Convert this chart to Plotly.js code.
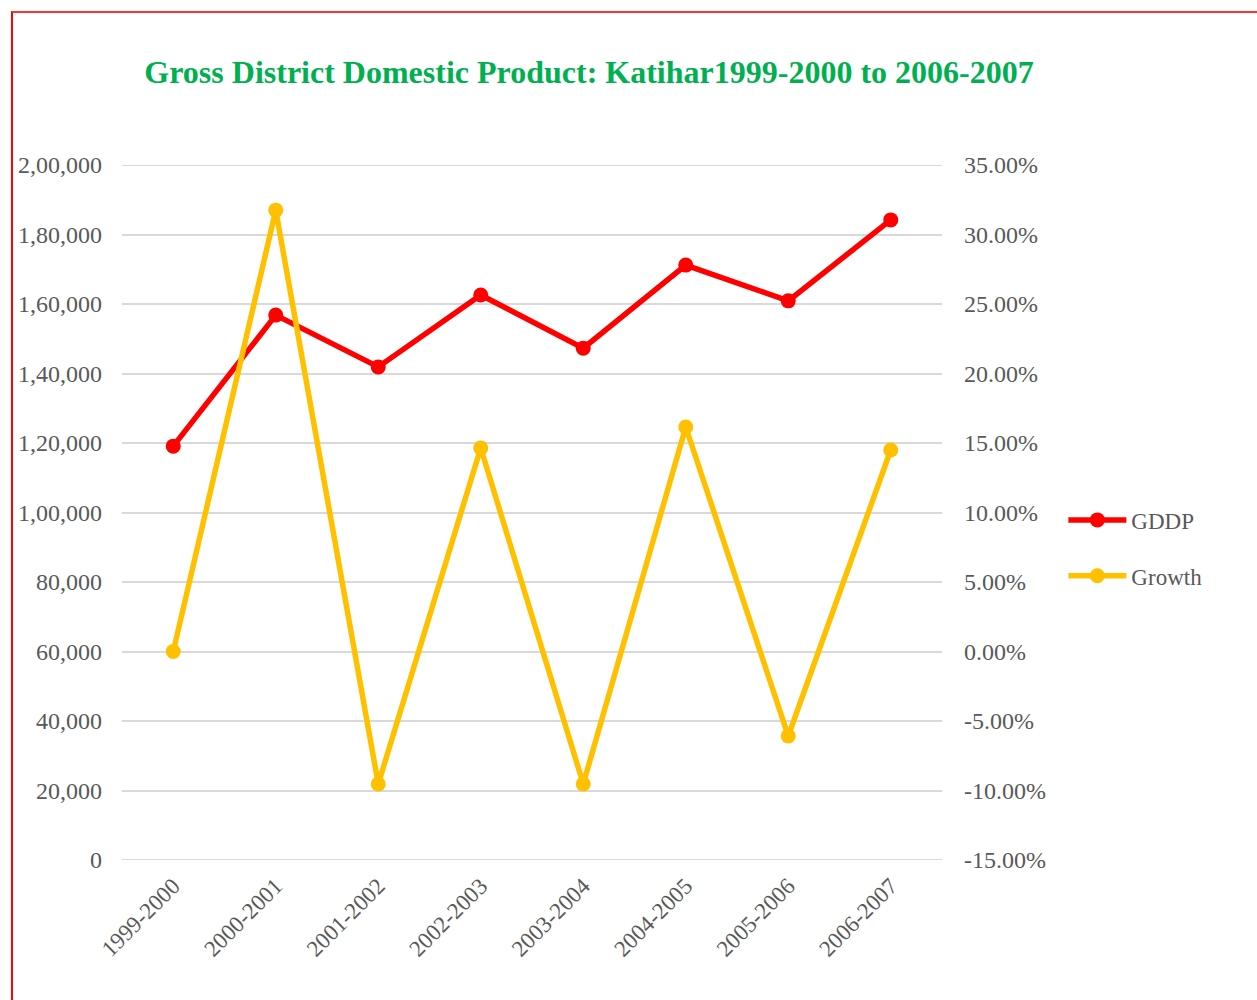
<!DOCTYPE html>
<html>
<head>
<meta charset="utf-8">
<script src="https://cdn.plot.ly/plotly-3.0.1.min.js"></script>
<style>
  html, body { margin: 0; padding: 0; background: #ffffff; }
  #wrap { position: relative; width: 1257px; height: 1000px; overflow: hidden; }
  #frame { position: absolute; left: 11px; top: 11px; width: 1300px; height: 1100px;
           border-left: 2px solid #ff0000; border-top: 2px solid #ff3333; pointer-events: none; z-index: 5; }
  #chart { position: absolute; left: 0; top: 0; width: 1257px; height: 1000px; }
</style>
</head>
<body>
<div id="wrap">
  <div id="chart"></div>
  <div id="frame"></div>
</div>
<script>
// Financial years
const years = ['1999-2000', '2000-2001', '2001-2002', '2002-2003',
               '2003-2004', '2004-2005', '2005-2006', '2006-2007'];

// Gross District Domestic Product (Rs. lakh)
const gddp = [119100, 156800, 141900, 162600, 147300, 171200, 160900, 184200];

// Year-on-year growth
const growth = [0.0, 0.3175, -0.0953, 0.1464, -0.0953, 0.1615, -0.0608, 0.1450];

// Left axis ticks (Indian digit grouping)
const leftTickVals = [0, 20000, 40000, 60000, 80000, 100000, 120000, 140000, 160000, 180000, 200000];
const leftTickText = ['0', '20,000', '40,000', '60,000', '80,000', '1,00,000',
                      '1,20,000', '1,40,000', '1,60,000', '1,80,000', '2,00,000'];

// Right axis ticks
const rightTickVals = [-0.15, -0.10, -0.05, 0, 0.05, 0.10, 0.15, 0.20, 0.25, 0.30, 0.35];
const rightTickText = ['-15.00%', '-10.00%', '-5.00%', '0.00%', '5.00%', '10.00%',
                       '15.00%', '20.00%', '25.00%', '30.00%', '35.00%'];

const serif = 'Liberation Serif, Times New Roman, serif';
const tickFont = { family: serif, size: 24, color: '#595959' };
const gridColor = '#d9d9d9';

const traces = [
  {
    x: years, y: gddp, name: 'GDDP', type: 'scatter', mode: 'lines+markers',
    line: { color: '#ff0000', width: 5.5 },
    marker: { color: '#ff0000', size: 15 },
    legendgroup: 'a', yaxis: 'y'
  },
  {
    x: years, y: growth, name: 'Growth', type: 'scatter', mode: 'lines+markers',
    line: { color: '#ffc000', width: 5.5 },
    marker: { color: '#ffc000', size: 15 },
    legendgroup: 'b', yaxis: 'y2'
  }
];

// Gridlines at both ends of the value range (Plotly skips those at the plot edges)
const edgeLines = [leftTickVals[0], leftTickVals[leftTickVals.length - 1]].map(v => ({
  type: 'line', xref: 'paper', x0: 0, x1: 1, yref: 'y', y0: v, y1: v,
  line: { color: gridColor, width: 2 }, layer: 'below'
}));

const layout = {
  width: 1257, height: 1000,
  margin: { l: 122, r: 315, t: 165, b: 140 },
  paper_bgcolor: '#ffffff', plot_bgcolor: '#ffffff',
  title: {
    text: '<b>Gross District Domestic Product: Katihar1999-2000 to 2006-2007</b>',
    font: { family: serif, size: 32, color: '#00b050' },
    x: 0.4686, xanchor: 'center', xref: 'container',
    y: 0.928, yanchor: 'middle', yref: 'container'
  },
  xaxis: {
    type: 'category', range: [-0.5, 7.5],
    tickangle: -45, tickfont: { family: serif, size: 23, color: '#595959' },
    showgrid: false, zeroline: false, showline: false, ticks: '',
    ticklabelstandoff: 7
  },
  yaxis: {
    range: [0, 200000], tickvals: leftTickVals, ticktext: leftTickText,
    tickfont: tickFont, showgrid: true, gridcolor: gridColor, gridwidth: 2,
    zeroline: false, showline: false, ticks: '', ticklabelstandoff: 19
  },
  yaxis2: {
    overlaying: 'y', side: 'right',
    range: [-0.15, 0.35], tickvals: rightTickVals, ticktext: rightTickText,
    tickfont: tickFont, showgrid: false, zeroline: false, showline: false,
    ticks: '', ticklabelstandoff: 21
  },
  shapes: edgeLines,
  showlegend: true,
  legend: {
    x: 1.148, xanchor: 'left', y: 0.449, yanchor: 'middle',
    font: { family: serif, size: 23, color: '#595959' },
    traceorder: 'grouped', tracegroupgap: 23,
    itemwidth: 58, bgcolor: 'rgba(0,0,0,0)'
  }
};

Plotly.newPlot('chart', traces, layout, { displayModeBar: false, staticPlot: true });
</script>
</body>
</html>
